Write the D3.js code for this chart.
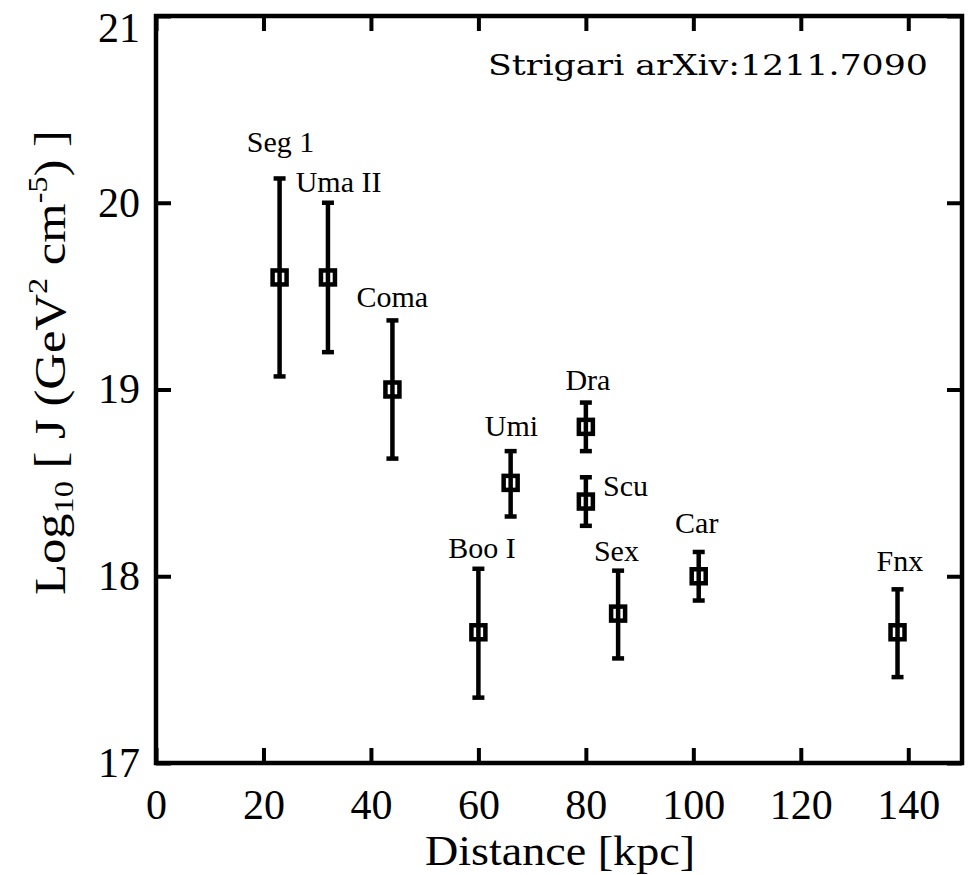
<!DOCTYPE html>
<html>
<head>
<meta charset="utf-8">
<script src="https://cdn.jsdelivr.net/npm/d3@7"></script>
<style>
  body { margin: 0; background: #fff; }
  svg { display: block; }
</style>
</head>
<body>
<div id="chart"></div>
<script>
// galaxy data: distance [kpc], log10 J, upper and lower error ends
const names = ['Seg 1', 'Uma II', 'Coma', 'Umi', 'Dra', 'Scu', 'Boo I', 'Sex', 'Car', 'Fnx'];
const distance = [23, 32, 44, 66, 80, 80, 60, 86, 101, 138];
const logJ = [19.6, 19.6, 19.0, 18.5, 18.8, 18.4, 17.7, 17.8, 18.0, 17.7];
const logJHigh = [20.13, 20.0, 19.37, 18.67, 18.93, 18.53, 18.04, 18.03, 18.13, 17.93];
const logJLow = [19.07, 19.2, 18.63, 18.32, 18.67, 18.27, 17.35, 17.56, 17.87, 17.46];
// label anchor (left edge, baseline) in data units
const labelX = [16.9, 26.0, 37.3, 61.2, 76.2, 83.2, 54.4, 81.5, 96.6, 134.1];
const labelY = [20.27, 20.06, 19.44, 18.75, 19.0, 18.43, 18.1, 18.08, 18.23, 18.03];

const xTicks = [0, 20, 40, 60, 80, 100, 120, 140];
const yTicks = [17, 18, 19, 20, 21];

const W = 968, H = 875;
const m = { left: 156, right: 962, top: 16, bottom: 763 };
const TICK = 15;
const SERIF = "'Liberation Serif', 'Times New Roman', serif";

const svg = d3.select('#chart').append('svg')
  .attr('width', W).attr('height', H);

const x = d3.scaleLinear().domain([0, 150]).range([m.left, m.right]);
const y = d3.scaleLinear().domain([17, 21]).range([m.bottom, m.top]);

// frame axes, ticks on all four sides pointing inward
const axisStyle = g => {
  g.select('.domain').remove();
  g.selectAll('.tick line').attr('stroke', '#000').attr('stroke-width', 4);
  g.selectAll('.tick text').style('font-family', SERIF).style('font-size', '42px').attr('fill', '#000');
};

svg.append('g').attr('transform', `translate(0,${m.bottom})`)
  .call(d3.axisBottom(x).tickValues(xTicks).tickSize(-TICK).tickPadding(26).tickFormat(d3.format('d')))
  .call(axisStyle);

svg.append('g').attr('transform', `translate(0,${m.top})`)
  .call(d3.axisTop(x).tickValues(xTicks).tickSize(-TICK).tickFormat(''))
  .call(axisStyle);

const yAxisG = svg.append('g').attr('transform', `translate(${m.left},0)`)
  .call(d3.axisLeft(y).tickValues(yTicks).tickSize(-TICK).tickPadding(16).tickFormat(d3.format('d')))
  .call(axisStyle);
// top label sits a little lower so it stays on the page
yAxisG.selectAll('.tick text').filter(d => d === 21).attr('y', 12);

svg.append('g').attr('transform', `translate(${m.right},0)`)
  .call(d3.axisRight(y).tickValues(yTicks).tickSize(-TICK).tickFormat(''))
  .call(axisStyle);

svg.append('rect')
  .attr('x', m.left).attr('y', m.top)
  .attr('width', m.right - m.left).attr('height', m.bottom - m.top)
  .attr('fill', 'none').attr('stroke', '#000').attr('stroke-width', 4.5);

// error bars
const idx = d3.range(names.length);
const pts = svg.append('g');

pts.selectAll('line.bar').data(idx).join('line')
  .attr('class', 'bar')
  .attr('x1', i => x(distance[i])).attr('x2', i => x(distance[i]))
  .attr('y1', i => y(logJHigh[i])).attr('y2', i => y(logJLow[i]))
  .attr('stroke', '#000').attr('stroke-width', 4.5);

pts.selectAll('line.capHi').data(idx).join('line')
  .attr('class', 'capHi')
  .attr('x1', i => x(distance[i]) - 6).attr('x2', i => x(distance[i]) + 6)
  .attr('y1', i => y(logJHigh[i])).attr('y2', i => y(logJHigh[i]))
  .attr('stroke', '#000').attr('stroke-width', 4.5);

pts.selectAll('line.capLo').data(idx).join('line')
  .attr('class', 'capLo')
  .attr('x1', i => x(distance[i]) - 6).attr('x2', i => x(distance[i]) + 6)
  .attr('y1', i => y(logJLow[i])).attr('y2', i => y(logJLow[i]))
  .attr('stroke', '#000').attr('stroke-width', 4.5);

// open square markers
pts.selectAll('rect').data(idx).join('rect')
  .attr('x', i => x(distance[i]) - 7).attr('y', i => y(logJ[i]) - 7)
  .attr('width', 14).attr('height', 14)
  .attr('fill', 'none').attr('stroke', '#000').attr('stroke-width', 4.5);

// galaxy names
svg.append('g').selectAll('text').data(idx).join('text')
  .attr('x', i => x(labelX[i])).attr('y', i => y(labelY[i]))
  .style('font-family', SERIF).style('font-size', '30px')
  .text(i => names[i]);

// reference note
svg.append('text')
  .attr('x', 488).attr('y', 75)
  .style('font-family', "'DejaVu Serif', serif").style('font-size', '27px')
  .attr('textLength', 440).attr('lengthAdjust', 'spacingAndGlyphs')
  .text('Strigari arXiv:1211.7090');

// axis titles
svg.append('text')
  .attr('x', 425).attr('y', 865)
  .style('font-family', SERIF).style('font-size', '42px')
  .attr('textLength', 270).attr('lengthAdjust', 'spacingAndGlyphs')
  .text('Distance [kpc]');

const yt = svg.append('text')
  .attr('transform', `translate(65,595) rotate(-90)`)
  .style('font-family', SERIF).style('font-size', '44px')
  .attr('textLength', 465).attr('lengthAdjust', 'spacingAndGlyphs');
yt.append('tspan').text('Log');
yt.append('tspan').style('font-size', '28px').attr('dy', 8).text('10');
yt.append('tspan').attr('dy', -8).text(' [ J (GeV');
yt.append('tspan').style('font-size', '28px').attr('dy', -18).text('2');
yt.append('tspan').attr('dy', 18).text(' cm');
yt.append('tspan').style('font-size', '28px').attr('dy', -18).text('-5');
yt.append('tspan').attr('dy', 18).text(') ]');
</script>
</body>
</html>
